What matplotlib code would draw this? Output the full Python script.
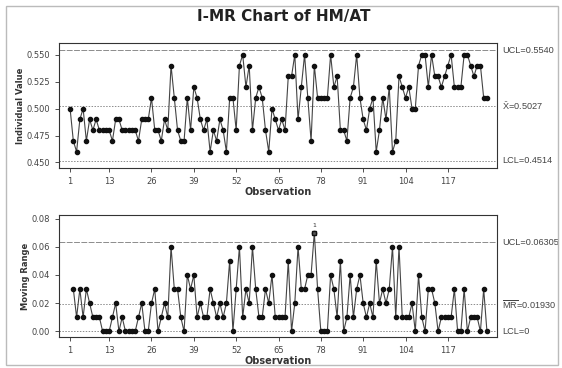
import numpy as np
from matplotlib import pyplot as plt
from matplotlib.patches import Rectangle

plt.rcParams['font.family'] = ['DejaVu Sans']
plt.rcParams['mathtext.fontset'] = 'custom'
plt.rcParams['mathtext.rm'] = 'Liberation Sans'

# Individual values, observations 1..129
hm_at = [0.50, 0.47, 0.46, 0.49, 0.50, 0.47, 0.49, 0.48, 0.49, 0.48,
         0.48, 0.48, 0.48, 0.47, 0.49, 0.49, 0.48, 0.48, 0.48, 0.48,
         0.48, 0.47, 0.49, 0.49, 0.49, 0.51, 0.48, 0.48, 0.47, 0.49,
         0.48, 0.54, 0.51, 0.48, 0.47, 0.47, 0.51, 0.48, 0.52, 0.51,
         0.49, 0.48, 0.49, 0.46, 0.48, 0.47, 0.49, 0.48, 0.46, 0.51,
         0.51, 0.48, 0.54, 0.55, 0.52, 0.54, 0.48, 0.51, 0.52, 0.51,
         0.48, 0.46, 0.50, 0.49, 0.48, 0.49, 0.48, 0.53, 0.53, 0.55,
         0.49, 0.52, 0.55, 0.51, 0.47, 0.54, 0.51, 0.51, 0.51, 0.51,
         0.55, 0.52, 0.53, 0.48, 0.48, 0.47, 0.51, 0.52, 0.55, 0.51,
         0.49, 0.48, 0.50, 0.51, 0.46, 0.48, 0.51, 0.49, 0.52, 0.46,
         0.47, 0.53, 0.52, 0.51, 0.52, 0.50, 0.50, 0.54, 0.55, 0.55,
         0.52, 0.55, 0.53, 0.53, 0.52, 0.53, 0.54, 0.55, 0.52, 0.52,
         0.52, 0.55, 0.55, 0.54, 0.53, 0.54, 0.54, 0.51, 0.51]

# Moving ranges, observations 2..129
mr = [0.03, 0.01, 0.03, 0.01, 0.03, 0.02, 0.01, 0.01, 0.01,
      0.00, 0.00, 0.00, 0.01, 0.02, 0.00, 0.01, 0.00, 0.00, 0.00,
      0.00, 0.01, 0.02, 0.00, 0.00, 0.02, 0.03, 0.00, 0.01, 0.02,
      0.01, 0.06, 0.03, 0.03, 0.01, 0.00, 0.04, 0.03, 0.04, 0.01,
      0.02, 0.01, 0.01, 0.03, 0.02, 0.01, 0.02, 0.01, 0.02, 0.05,
      0.00, 0.03, 0.06, 0.01, 0.03, 0.02, 0.06, 0.03, 0.01, 0.01,
      0.03, 0.02, 0.04, 0.01, 0.01, 0.01, 0.01, 0.05, 0.00, 0.02,
      0.06, 0.03, 0.03, 0.04, 0.04, 0.07, 0.03, 0.00, 0.00, 0.00,
      0.04, 0.03, 0.01, 0.05, 0.00, 0.01, 0.04, 0.01, 0.03, 0.04,
      0.02, 0.01, 0.02, 0.01, 0.05, 0.02, 0.03, 0.02, 0.03, 0.06,
      0.01, 0.06, 0.01, 0.01, 0.01, 0.02, 0.00, 0.04, 0.01, 0.00,
      0.03, 0.03, 0.02, 0.00, 0.01, 0.01, 0.01, 0.01, 0.03, 0.00,
      0.00, 0.03, 0.00, 0.01, 0.01, 0.01, 0.00, 0.03, 0.00]

i_ucl, i_mean, i_lcl = 0.5540, 0.5027, 0.4514
mr_ucl, mr_mean, mr_lcl = 0.06305, 0.01930, 0.0

xticks = [1, 13, 26, 39, 52, 65, 78, 91, 104, 117]

obs = np.arange(1, len(hm_at) + 1)
obs_mr = np.arange(2, len(mr) + 2)
mr_arr = np.array(mr)

fig = plt.figure(figsize=(5.62, 3.68), dpi=100)
fig.patches.append(Rectangle((0.011, 0.008), 0.982, 0.976, transform=fig.transFigure,
                             fill=False, edgecolor='#bbbbbb', linewidth=1.0))

fig.text(0.505, 0.955, 'I-MR Chart of HM/AT', ha='center', va='center',
         fontsize=11, fontweight='bold', color='#222222')

line_col = '#444444'
lim_col = '#8c8c8c'
lab_font = dict(family=['Liberation Sans', 'DejaVu Sans'], fontsize=6.6, color='#444444', va='center')


def style_axes(ax):
    for s in ax.spines.values():
        s.set_color('#333333')
        s.set_linewidth(0.8)
    ax.tick_params(axis='both', labelsize=6, colors='#333333', length=3, width=0.6,
                   labelcolor='#444444')
    ax.set_xticks(xticks)
    ax.set_xlim(-2.4, 132.1)


# Individual chart
ax1 = fig.add_axes([0.105, 0.5435, 0.7794, 0.3397])
ax1.axhline(i_ucl, color=lim_col, lw=0.7, ls=(0, (6, 1.5)))
ax1.axhline(i_mean, color=lim_col, lw=0.7, ls=(0, (1.5, 1.5)))
ax1.axhline(i_lcl, color=lim_col, lw=0.7, ls=(0, (1.5, 1.5)))
ax1.plot(obs, hm_at, color=line_col, lw=0.8, marker='o', ms=3,
         mfc='#111111', mec='#111111')
ax1.set_ylim(0.4449, 0.5609)
ax1.set_yticks([0.450, 0.475, 0.500, 0.525, 0.550])
ax1.set_yticklabels(['0.450', '0.475', '0.500', '0.525', '0.550'])
style_axes(ax1)
ax1.set_ylabel('Individual Value', fontsize=6, fontweight='bold', color='#333333', labelpad=1)
ax1.set_xlabel('Observation', fontsize=7, fontweight='bold', color='#333333', labelpad=1)

tr1 = ax1.get_yaxis_transform()
ax1.text(1.012, i_ucl, 'UCL=0.5540', transform=tr1, **lab_font)
ax1.text(1.012, i_mean, r'$\bar{\mathrm{X}}$=0.5027', transform=tr1, **lab_font)
ax1.text(1.012, i_lcl, 'LCL=0.4514', transform=tr1, **lab_font)

# Moving range chart
ax2 = fig.add_axes([0.105, 0.0842, 0.7794, 0.3315])
ax2.axhline(mr_ucl, color=lim_col, lw=0.7, ls=(0, (6, 1.5)))
ax2.axhline(mr_mean, color=lim_col, lw=0.7, ls=(0, (1.5, 1.5)))
ax2.axhline(mr_lcl, color=lim_col, lw=0.7, ls=(0, (1.5, 1.5)))
ax2.plot(obs_mr, mr_arr, color=line_col, lw=0.8, marker='o', ms=3,
         mfc='#111111', mec='#111111')
out = mr_arr > mr_ucl
ax2.plot(obs_mr[out], mr_arr[out], ls='none', marker='s', ms=3.2,
         mfc='#555555', mec='#111111')
for xo, yo in zip(obs_mr[out], mr_arr[out]):
    ax2.annotate('1', (xo, yo), xytext=(0, 3), textcoords='offset points',
                 ha='center', va='bottom', fontsize=4.5, color='#333333')
ax2.set_ylim(-0.004, 0.0825)
ax2.set_yticks([0.00, 0.02, 0.04, 0.06, 0.08])
ax2.set_yticklabels(['0.00', '0.02', '0.04', '0.06', '0.08'])
style_axes(ax2)
ax2.set_ylabel('Moving Range', fontsize=6, fontweight='bold', color='#333333', labelpad=1)
ax2.set_xlabel('Observation', fontsize=7, fontweight='bold', color='#333333', labelpad=1)

tr2 = ax2.get_yaxis_transform()
ax2.text(1.012, mr_ucl, 'UCL=0.06305', transform=tr2, **lab_font)
ax2.text(1.012, mr_mean, r'$\overline{\mathrm{MR}}$=0.01930', transform=tr2, **lab_font)
ax2.text(1.012, mr_lcl, 'LCL=0', transform=tr2, **lab_font)

fig.savefig('out.png', dpi=100)
